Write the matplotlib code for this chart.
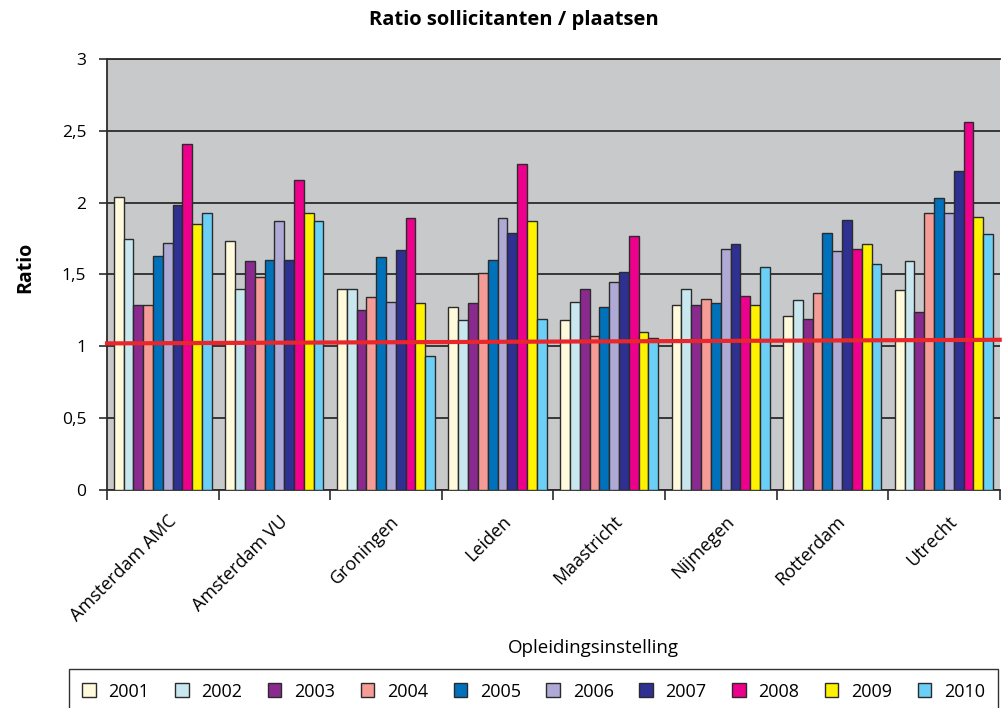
import numpy as np
import matplotlib
matplotlib.use("Agg")
import matplotlib.pyplot as plt
import matplotlib.transforms as mtransforms
from matplotlib.patches import Patch

plt.rcParams['font.family'] = ['Open Sans', 'DejaVu Sans']

# Opleidingsinstellingen
instellingen = ['Amsterdam AMC', 'Amsterdam VU', 'Groningen', 'Leiden',
                'Maastricht', 'Nijmegen', 'Rotterdam', 'Utrecht']
jaren = ['2001', '2002', '2003', '2004', '2005', '2006', '2007', '2008', '2009', '2010']

# Ratio per jaar (volgorde = instellingen)
r2001 = [2.04, 1.73, 1.40, 1.27, 1.18, 1.29, 1.21, 1.39]
r2002 = [1.75, 1.40, 1.40, 1.18, 1.31, 1.40, 1.32, 1.59]
r2003 = [1.29, 1.59, 1.25, 1.30, 1.40, 1.29, 1.19, 1.24]
r2004 = [1.29, 1.48, 1.34, 1.51, 1.07, 1.33, 1.37, 1.93]
r2005 = [1.63, 1.60, 1.62, 1.60, 1.27, 1.30, 1.79, 2.03]
r2006 = [1.72, 1.87, 1.31, 1.89, 1.45, 1.68, 1.66, 1.93]
r2007 = [1.98, 1.60, 1.67, 1.79, 1.52, 1.71, 1.88, 2.22]
r2008 = [2.41, 2.16, 1.89, 2.27, 1.77, 1.35, 1.68, 2.56]
r2009 = [1.85, 1.93, 1.30, 1.87, 1.10, 1.29, 1.71, 1.90]
r2010 = [1.93, 1.87, 0.93, 1.19, 1.06, 1.55, 1.57, 1.78]
ratios = [r2001, r2002, r2003, r2004, r2005, r2006, r2007, r2008, r2009, r2010]

kleuren = ['#FFFADB', '#C9E7EF', '#8A2A8E', '#F59C96', '#0071BB',
           '#AEA9D5', '#2E3192', '#EC008C', '#FFF200', '#6CCFF6']

# rode lijn (trend)
lijn_start = 1.02
lijn_eind = 1.045

fig = plt.figure(figsize=(10.03, 7.08), dpi=100)
ax = fig.add_axes([0.1067, 0.308, 0.890, 0.6088])
ax.set_facecolor('#C8C9CB')

n = len(jaren)
x = np.arange(len(instellingen))
breedte = 0.088
for i, (jaar, vals) in enumerate(zip(jaren, ratios)):
    ax.bar(x + (i - (n - 1) / 2) * breedte, vals, width=breedte,
           color=kleuren[i], edgecolor='#2b2b2b', linewidth=1.0, zorder=3)

ax.plot([-0.5, len(instellingen) - 0.5], [lijn_start, lijn_eind],
        color='#E8262B', linewidth=3, zorder=5, clip_on=False)

ax.set_xlim(-0.5, len(instellingen) - 0.5)
ax.set_ylim(0, 3)
ax.set_yticks(np.arange(0, 3.01, 0.5))
ax.set_yticklabels(['0', '0,5', '1', '1,5', '2', '2,5', '3'], fontsize=12.5)
ax.yaxis.grid(True, color='#2b2b2b', linewidth=1.3, zorder=0)
ax.set_axisbelow(True)

ax.set_xticks(np.arange(-0.5, len(instellingen), 1.0))
ax.set_xticklabels([])
ax.set_xticks(x, minor=True)
ax.set_xticklabels(instellingen, minor=True, rotation=45, ha='right', va='top',
                   rotation_mode='anchor', fontsize=13)
ax.tick_params(axis='x', which='minor', length=0, pad=16)
ax.tick_params(axis='x', which='major', length=7, width=1.2, color='#2b2b2b')
ax.tick_params(axis='y', length=6, width=1.2, color='#2b2b2b', pad=9)

verschuif = mtransforms.ScaledTranslation(3 / 72, 0, fig.dpi_scale_trans)
for lab in ax.xaxis.get_minorticklabels():
    lab.set_transform(lab.get_transform() + verschuif)

for s in ['left', 'bottom', 'top']:
    ax.spines[s].set_color('#2b2b2b')
    ax.spines[s].set_linewidth(1.3)
ax.spines['right'].set_visible(False)

fig.text(0.512, 0.972, 'Ratio sollicitanten / plaatsen', ha='center', va='center',
         fontsize=14.5, fontweight='bold')
fig.text(0.025, 0.623, 'Ratio', rotation=90, ha='center', va='center',
         fontsize=14, fontweight='bold')
fig.text(0.592, 0.085, 'Opleidingsinstelling', ha='center', va='center', fontsize=13.5)

handles = [Patch(facecolor=k, edgecolor='#2b2b2b', linewidth=1.0) for k in kleuren]
leg = fig.legend(handles, jaren, loc='upper center', bbox_to_anchor=(0.532, 1 - 669 / 708),
                 ncol=n, frameon=True, fancybox=False, fontsize=13,
                 handlelength=0.75, handleheight=0.8, handletextpad=0.7,
                 columnspacing=1.42, borderpad=0.75, borderaxespad=0)
leg.get_frame().set_edgecolor('black')
leg.get_frame().set_linewidth(1.0)

fig.savefig('out.png', dpi=100)
